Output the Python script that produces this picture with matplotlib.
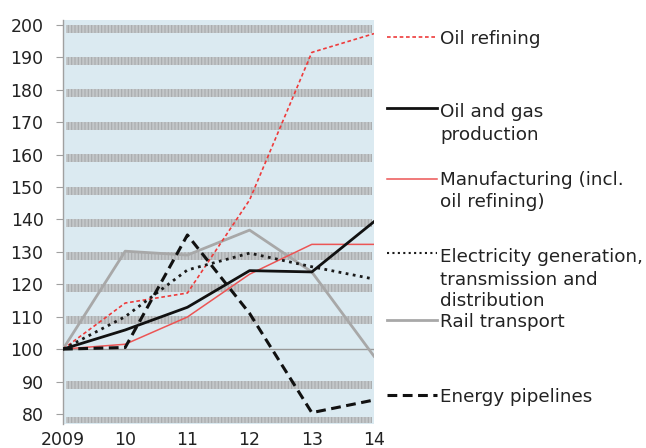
import matplotlib
matplotlib.use("Agg")
import matplotlib.pyplot as plt
from matplotlib.lines import Line2D

years = [2009, 2010, 2011, 2012, 2013, 2014]
xlabels = ["2009", "10", "11", "12", "13", "14"]
yticks = [80, 90, 100, 110, 120, 130, 140, 150, 160, 170, 180, 190, 200]

oil_refining = [100, 114.2, 117.3, 146, 191.5, 197.3]
oil_gas = [100, 105.9, 112.9, 124.2, 123.8, 139.3]
manufacturing = [100, 101.5, 109.9, 123.1, 132.3, 132.3]
electricity = [100, 110, 124.4, 129.6, 125.4, 121.6]
rail = [100, 130.2, 129, 136.7, 123.8, 97.8]
pipelines = [100, 100.5, 135.2, 111, 80.4, 84.3]

legend_labels = [
    ["Oil refining"],
    ["Oil and gas", "production"],
    ["Manufacturing (incl.", "oil refining)"],
    ["Electricity generation,", "transmission and", "distribution"],
    ["Rail transport"],
    ["Energy pipelines"],
]

W, H = 646, 448
plt.rcParams['font.family'] = ['DejaVu Sans']
plt.rcParams['hatch.linewidth'] = 0.8
fig = plt.figure(figsize=(W/100, H/100), dpi=100)
ax = fig.add_axes([63/W, 1-424/H, (374-63)/W, (424-20)/H])
ax.set_facecolor('#dbeaf1')
ax.set_xlim(2009, 2014)
ax.set_ylim(76.9, 201.5)

for v in yticks:
    if v == 100:
        continue
    lo, hi = (v-2.4, v+0.1) if v != 80 else (77.1, 79.0)
    ax.axhspan(lo, hi, xmin=0.01, xmax=0.995, facecolor='#c3c7c9',
               edgecolor='#a9acae', hatch='|||||', linewidth=0, zorder=0.5)
ax.axhline(100, color='#9a9a9a', lw=1.0, zorder=1)

red = '#ee3b3b'
red2 = '#ec5555'
st_ref = dict(color=red, lw=1.2, ls=(0, (2.2, 1.6)))
st_og = dict(color='#111111', lw=2.0, ls='-')
st_man = dict(color=red2, lw=1.1, ls='-')
st_el = dict(color='#1a1a1a', lw=2.0, ls=(0, (1, 1.6)))
st_rail = dict(color='#a8a8a8', lw=2.0, ls='-')
st_pipe = dict(color='#111111', lw=2.2, ls=(0, (3.2, 1.8)))

for data, st in [(rail, st_rail), (manufacturing, st_man), (oil_refining, st_ref),
                 (electricity, st_el), (oil_gas, st_og), (pipelines, st_pipe)]:
    ax.plot(years, data, zorder=3, **st)

for s in ['top', 'right', 'bottom']:
    ax.spines[s].set_visible(False)
ax.spines['left'].set_color('#a0a0a0')
ax.spines['left'].set_linewidth(1.0)
ax.set_yticks(yticks)
ax.set_xticks(years)
ax.set_xticklabels(xlabels)
FS = 12.5
ax.tick_params(axis='y', length=5, color='#a0a0a0', pad=9, labelsize=FS, labelcolor='#222222')
ax.tick_params(axis='x', length=0, pad=5, labelsize=FS, labelcolor='#222222')

# legend (manual, in figure pixels)
x0, x1, xt = 387/W, 437/W, 440/W
line_y = [37, 108.5, 179, 253, 320, 395]
base_y = [[43.5], [117, 140], [185, 207], [261.5, 285, 306.5], [326.5], [401.5]]
leg_styles = [st_ref, st_og, st_man, dict(st_el, lw=1.5), st_rail, st_pipe]
for ly, bys, lines, st in zip(line_y, base_y, legend_labels, leg_styles):
    yf = 1 - ly/H
    fig.add_artist(Line2D([x0, x1], [yf, yf], transform=fig.transFigure, **st))
    for by, txt in zip(bys, lines):
        fig.text(xt, 1 - by/H, txt, ha='left', va='baseline', fontsize=13.2,
                 color='#222222', transform=fig.transFigure)

fig.savefig("out.png", dpi=100)
